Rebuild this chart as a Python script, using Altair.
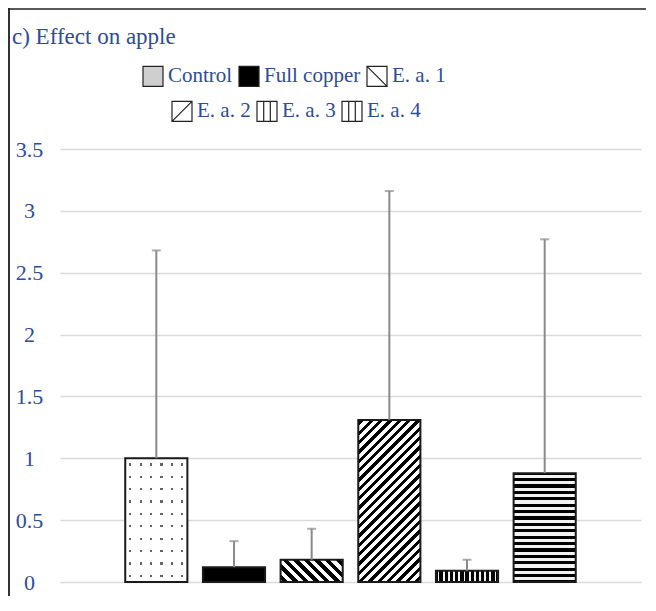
import altair as alt
import pandas as pd

# ---- data ----
categories = ["Control", "Full copper", "E. a. 1", "E. a. 2", "E. a. 3", "E. a. 4"]
means = [1.00, 0.12, 0.18, 1.31, 0.09, 0.88]
upper = [2.68, 0.33, 0.43, 3.16, 0.18, 2.77]
y_ticks = [0, 0.5, 1, 1.5, 2, 2.5, 3, 3.5]
legend_row1 = ["Control", "Full copper", "E. a. 1"]
legend_row2 = ["E. a. 2", "E. a. 3", "E. a. 4"]
title_text = "c) Effect on apple"

df = pd.DataFrame({"cat": categories, "mean": means, "upper": upper})

# ---- layout / style ----
W, H = 581, 433
YMAX = 3.5
PX = H / YMAX
BLUE = "#2E4C9C"
FONT = "Liberation Serif"
PAD_IN, PAD_OUT = 0.2, 0.84
STEP = W / (len(categories) - PAD_IN + 2 * PAD_OUT)
BW = STEP * (1 - PAD_IN)
PAD_BOTTOM = 14


def stripes(x1, y1, x2, y2, n, frac, c_on, c_off):
    stops = []
    a0 = (1 - frac) / 2
    for k in range(n):
        s = k / n
        p = (k + a0) / n
        q = (k + a0 + frac) / n
        e = (k + 1) / n
        stops += [
            {"offset": s, "color": c_off},
            {"offset": p, "color": c_off},
            {"offset": p, "color": c_on},
            {"offset": q, "color": c_on},
            {"offset": q, "color": c_off},
            {"offset": e, "color": c_off},
        ]
    return {"gradient": "linear", "x1": x1, "y1": y1, "x2": x2, "y2": y2,
            "stops": stops}


def diag(w, h, up, period, frac, c_on, c_off):
    k = (w + h) / (w * w + h * h)
    a, b = k * w, k * h
    n = max(1, round((w + h) / 2 ** 0.5 / period))
    if up:   # "/" stripes
        return stripes(0, 0, a, b, n, frac, c_on, c_off)
    return stripes(0, 1, a, 1 - b, n, frac, c_on, c_off)  # "\" stripes


hpx = {c: m * PX for c, m in zip(categories, means)}

xscale = alt.Scale(domain=categories, paddingInner=PAD_IN, paddingOuter=PAD_OUT)
yscale = alt.Scale(domain=[0, YMAX], nice=False)
yaxis = alt.Axis(values=y_ticks, format="~g", title=None, domain=False,
                 ticks=False, labelPadding=31, labelAlign="center",
                 labelFont=FONT, labelFontSize=22, labelColor=BLUE,
                 gridColor="#dadada", gridWidth=1.5)

base = alt.Chart(df).encode(
    x=alt.X("cat:N", scale=xscale, axis=None, sort=categories),
    y=alt.Y("mean:Q", scale=yscale, axis=yaxis),
)

fills = {
    "Full copper": "black",
    "E. a. 1": diag(BW, hpx["E. a. 1"], False, 7.5, 0.5, "black", "white"),
    "E. a. 2": diag(BW, hpx["E. a. 2"], True, 6.5, 0.45, "black", "white"),
    "E. a. 3": stripes(0, 0, 1, 0, round(BW / 5), 0.35, "#f2f2f2", "black"),
    "E. a. 4": stripes(0, 0, 0, 1, round(hpx["E. a. 4"] / 6.5), 0.5, "#f2f2f2", "black"),
}

layers = []
# Control: dotted pattern from two overlaid stripe gradients
ctrl = base.transform_filter(alt.datum.cat == "Control")
layers.append(ctrl.mark_bar(
    fill=stripes(0, 0, 0, 1, round(hpx["Control"] / 12), 0.18, "#666666", "white")))
layers.append(ctrl.mark_bar(
    fill=stripes(0, 0, 1, 0, round(BW / 11), 0.2, "rgba(255,255,255,0)", "white"),
    stroke="#1a1a1a", strokeWidth=2))
for c, f in fills.items():
    layers.append(base.transform_filter(alt.datum.cat == c).mark_bar(
        fill=f, stroke="#1a1a1a", strokeWidth=2))

# error bars
layers.append(base.mark_rule(color="#8a8a8a", strokeWidth=2).encode(y2="upper:Q"))
layers.append(base.mark_tick(color="#8a8a8a", size=9, thickness=2).encode(
    y=alt.Y("upper:Q", scale=yscale, axis=yaxis)))

# legends (two rows)
sq = "M-1,-1H1V1H-1Z"
vl = "M-0.33,-1V1M0.33,-1V1"
shapes1 = [sq, sq, sq + "M-1,-1L1,1"]
fills1 = ["#cfcfcf", "black", "white"]
shapes2 = [sq + "M-1,1L1,-1", sq + vl, sq + vl]
fills2 = ["white", "white", "white"]


def legend_layer(field, names, shapes, fillc, lx, ly):
    lg = alt.Legend(title=None, orient="none", legendX=lx, legendY=ly,
                    direction="horizontal", symbolSize=400, symbolOpacity=1,
                    symbolStrokeWidth=1.2,
                    labelFont=FONT, labelFontSize=21, labelColor=BLUE,
                    labelOffset=4, columnPadding=3, padding=0, labelLimit=300)
    d = pd.DataFrame({field: names})
    return alt.Chart(d).mark_point(filled=False, opacity=0, color="#222222",
                                   strokeWidth=1.2).encode(
        shape=alt.Shape(f"{field}:N", scale=alt.Scale(domain=names, range=shapes), legend=lg),
        fill=alt.Fill(f"{field}:N", scale=alt.Scale(domain=names, range=fillc), legend=lg),
    )


layers.append(legend_layer("row1", legend_row1, shapes1, fills1, 82, -84))
layers.append(legend_layer("row2", legend_row2, shapes2, fills2, 111, -49))

# title as a text annotation
layers.append(alt.Chart(alt.Data(values=[{}])).mark_text(
    font=FONT, fontSize=23, color=BLUE, align="left", baseline="alphabetic"
).encode(x=alt.value(-48), y=alt.value(-105), text=alt.value(title_text)))

# frame lines (top and left edge of the figure)
frame = alt.Data(values=[{}])
layers.append(alt.Chart(frame).mark_rule(color="#333333", strokeWidth=2).encode(
    x=alt.value(-51), y=alt.value(-141), y2=alt.value(H + PAD_BOTTOM)))
layers.append(alt.Chart(frame).mark_rule(color="#222222", strokeWidth=1.5).encode(
    x=alt.value(-52), x2=alt.value(W + 5), y=alt.value(-140)))

chart = alt.layer(*layers).resolve_scale(
    shape="independent", fill="independent"
).resolve_legend(shape="independent", fill="independent").properties(
    width=W, height=H,
    autosize=alt.AutoSizeParams(type="none"),
    padding={"left": 52, "top": 141, "right": 5, "bottom": PAD_BOTTOM},
).configure_view(stroke=None)

chart.save("out.html", embed_options={"renderer": "svg", "actions": False})
